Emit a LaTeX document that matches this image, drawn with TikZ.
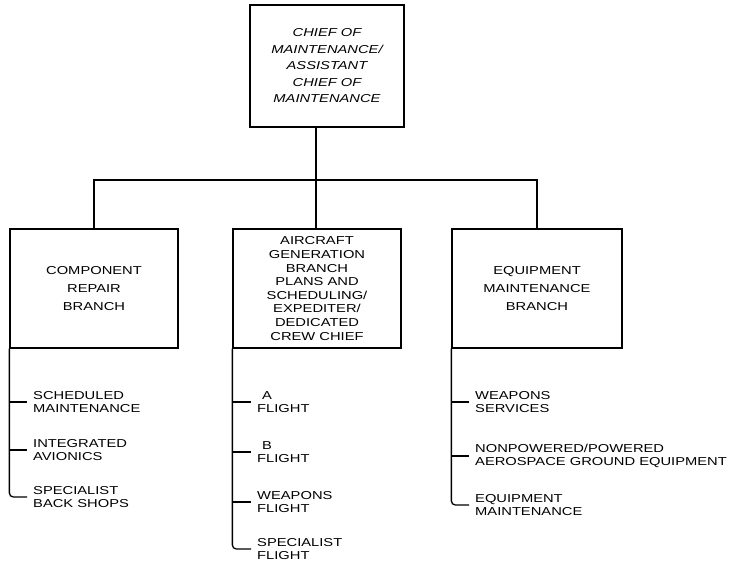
\documentclass[tikz,border=0pt]{standalone}
\usepackage{fontspec}
\newfontfamily\orgfont[FakeStretch=1.28]{Liberation Sans}
\usetikzlibrary{positioning}
\tikzset{
	every node/.style={font=\orgfont\fontsize{11.5}{13.6}\selectfont},
	box/.style={draw,line width=1.3pt,align=center,inner sep=0pt},
	item/.style={anchor=west,align=left,inner xsep=6pt,inner ysep=0pt},
	link/.style={line width=1.3pt}
}
\begin{document}
\begin{tikzpicture}[x=1pt,y=-1pt]
	\useasboundingbox (0,0) rectangle (737,569);
	\node[box,minimum width=154pt,minimum height=122pt,font=\orgfont\itshape\fontsize{11.5}{16.5}\selectfont] (chief) at (327,66) {CHIEF OF\\MAINTENANCE/\\ASSISTANT\\CHIEF OF\\MAINTENANCE};
	\node[box,minimum width=168pt,minimum height=119pt,font=\orgfont\fontsize{11.5}{18}\selectfont] (comp) at (94,288.5) {COMPONENT\\REPAIR\\BRANCH};
	\node[box,minimum width=168pt,minimum height=119pt] (acg) at (317,288.5) {AIRCRAFT\\GENERATION\\BRANCH\\PLANS AND\\SCHEDULING/\\EXPEDITER/\\DEDICATED\\CREW CHIEF};
	\node[box,minimum width=170pt,minimum height=119pt,font=\orgfont\fontsize{11.5}{18}\selectfont] (equip) at (537,288.5) {EQUIPMENT\\MAINTENANCE\\BRANCH};
	\coordinate (bus) at (316,180);
	\draw[link] (chief.south -| bus) -- (bus) -- (acg.north -| bus);
	\draw[link] (comp.north) |- (bus) -| (equip.north);

	\node[item] (sched) at (27,402) {SCHEDULED\\MAINTENANCE};
	\node[item] (avion) at (27,450) {INTEGRATED\\AVIONICS};
	\node[item] (shops) at (27,497) {SPECIALIST\\BACK SHOPS};
	\draw[link] (comp.south west) |- (sched.west);
	\draw[link] (comp.south west) |- (avion.west);
	\draw[link,rounded corners=4pt] (comp.south west) |- (shops.west);

	\node[item] (aflt) at (251,402) {\hspace*{5pt}A\\FLIGHT};
	\node[item] (bflt) at (251,452) {\hspace*{5pt}B\\FLIGHT};
	\node[item] (wflt) at (251,502) {WEAPONS\\FLIGHT};
	\node[item] (sflt) at (251,549) {SPECIALIST\\FLIGHT};
	\draw[link] (acg.south west) |- (aflt.west);
	\draw[link] (acg.south west) |- (bflt.west);
	\draw[link] (acg.south west) |- (wflt.west);
	\draw[link,rounded corners=4pt] (acg.south west) |- (sflt.west);

	\node[item] (wsvc) at (469,402) {WEAPONS\\SERVICES};
	\node[item] (age) at (469,456) {NONPOWERED/POWERED\\AEROSPACE GROUND EQUIPMENT};
	\node[item] (emnt) at (469,505) {EQUIPMENT\\MAINTENANCE};
	\draw[link] (equip.south west) |- (wsvc.west);
	\draw[link] (equip.south west) |- (age.west);
	\draw[link,rounded corners=4pt] (equip.south west) |- (emnt.west);
\end{tikzpicture}
\end{document}
